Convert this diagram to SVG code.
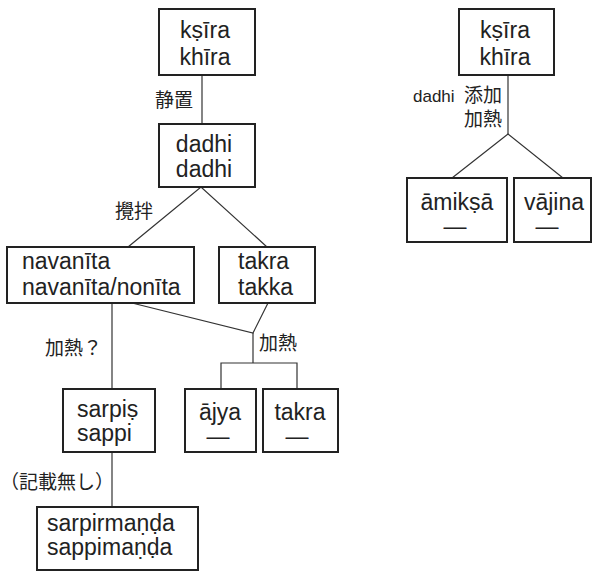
<svg xmlns="http://www.w3.org/2000/svg" width="595" height="571" viewBox="0 0 595 571">
<style>
.box{fill:#fff;stroke:#222;stroke-width:2}
.t{font-family:"Liberation Sans","DejaVu Sans",sans-serif;font-size:23px;fill:#222}
.c{text-anchor:middle}
.lbl{font-family:"Noto Sans CJK JP","Liberation Sans",sans-serif;font-size:19px;fill:#222}
.lat{font-family:"Liberation Sans","DejaVu Sans",sans-serif;font-size:17px}
#connectors line,#connectors polyline{stroke:#333;stroke-width:1.2;fill:none}
</style>
<rect width="595" height="571" fill="#fff"/>
<g id="connectors">
<line x1="202" y1="75" x2="202" y2="124"/>
<polyline points="128,247 201,187 267,247"/>
<line x1="112" y1="303" x2="112" y2="389"/>
<polyline points="132,303 253,333 268,303"/>
<line x1="253" y1="333" x2="253" y2="363"/>
<polyline points="221,389 221,363 297,363 297,389"/>
<line x1="112" y1="452" x2="112" y2="507"/>
<line x1="508" y1="75" x2="508" y2="134"/>
<polyline points="452,178 508,134 563,178"/>
</g>
<g id="labels">
<text class="lbl" x="155" y="107">静置</text>
<text class="lbl" x="115" y="218">攪拌</text>
<text class="lbl" x="45" y="355">加熱？</text>
<text class="lbl" x="259" y="350">加熱</text>
<text class="lbl" x="0" y="489">（記載無し）</text>
<text class="lbl" x="413" y="102"><tspan class="lat">dadhi</tspan><tspan x="464">添加</tspan></text>
<text class="lbl" x="464" y="126">加熱</text>
</g>
<g id="ksira1">
<rect class="box" x="159" y="9" width="96" height="66"/>
<text class="t c" x="205" y="38">kṣīra</text>
<text class="t c" x="205" y="65">khīra</text>
</g>
<g id="dadhi">
<rect class="box" x="159" y="124" width="96" height="63"/>
<text class="t c" x="204" y="152">dadhi</text>
<text class="t c" x="204" y="177">dadhi</text>
</g>
<g id="navanita">
<rect class="box" x="7" y="247" width="187" height="56"/>
<text class="t" x="22" y="269">navanīta</text>
<text class="t" x="22" y="295">navanīta/nonīta</text>
</g>
<g id="takra1">
<rect class="box" x="219" y="247" width="96" height="56"/>
<text class="t" x="238" y="269">takra</text>
<text class="t" x="238" y="295">takka</text>
</g>
<g id="sarpis">
<rect class="box" x="63" y="389" width="92" height="63"/>
<text class="t" x="77" y="417">sarpiṣ</text>
<text class="t" x="77" y="441">sappi</text>
</g>
<g id="ajya">
<rect class="box" x="185" y="389" width="71" height="63"/>
<text class="t c" x="220" y="420">ājya</text>
<text class="t c" x="218" y="444">—</text>
</g>
<g id="takra2">
<rect class="box" x="263" y="389" width="75" height="63"/>
<text class="t c" x="300" y="420">takra</text>
<text class="t c" x="297" y="444">—</text>
</g>
<g id="sarpirmanda">
<rect class="box" x="37" y="507" width="161" height="63"/>
<text class="t" x="47" y="531">sarpirmaṇḍa</text>
<text class="t" x="47" y="555">sappimaṇḍa</text>
</g>
<g id="ksira2">
<rect class="box" x="459" y="9" width="95" height="66"/>
<text class="t c" x="505" y="38">kṣīra</text>
<text class="t c" x="505" y="65">khīra</text>
</g>
<g id="amiksa">
<rect class="box" x="407" y="178" width="100" height="64"/>
<text class="t c" x="457" y="210">āmikṣā</text>
<text class="t c" x="455" y="234">—</text>
</g>
<g id="vajina">
<rect class="box" x="514" y="178" width="77" height="64"/>
<text class="t c" x="554" y="210">vājina</text>
<text class="t c" x="547" y="234">—</text>
</g>
</svg>
